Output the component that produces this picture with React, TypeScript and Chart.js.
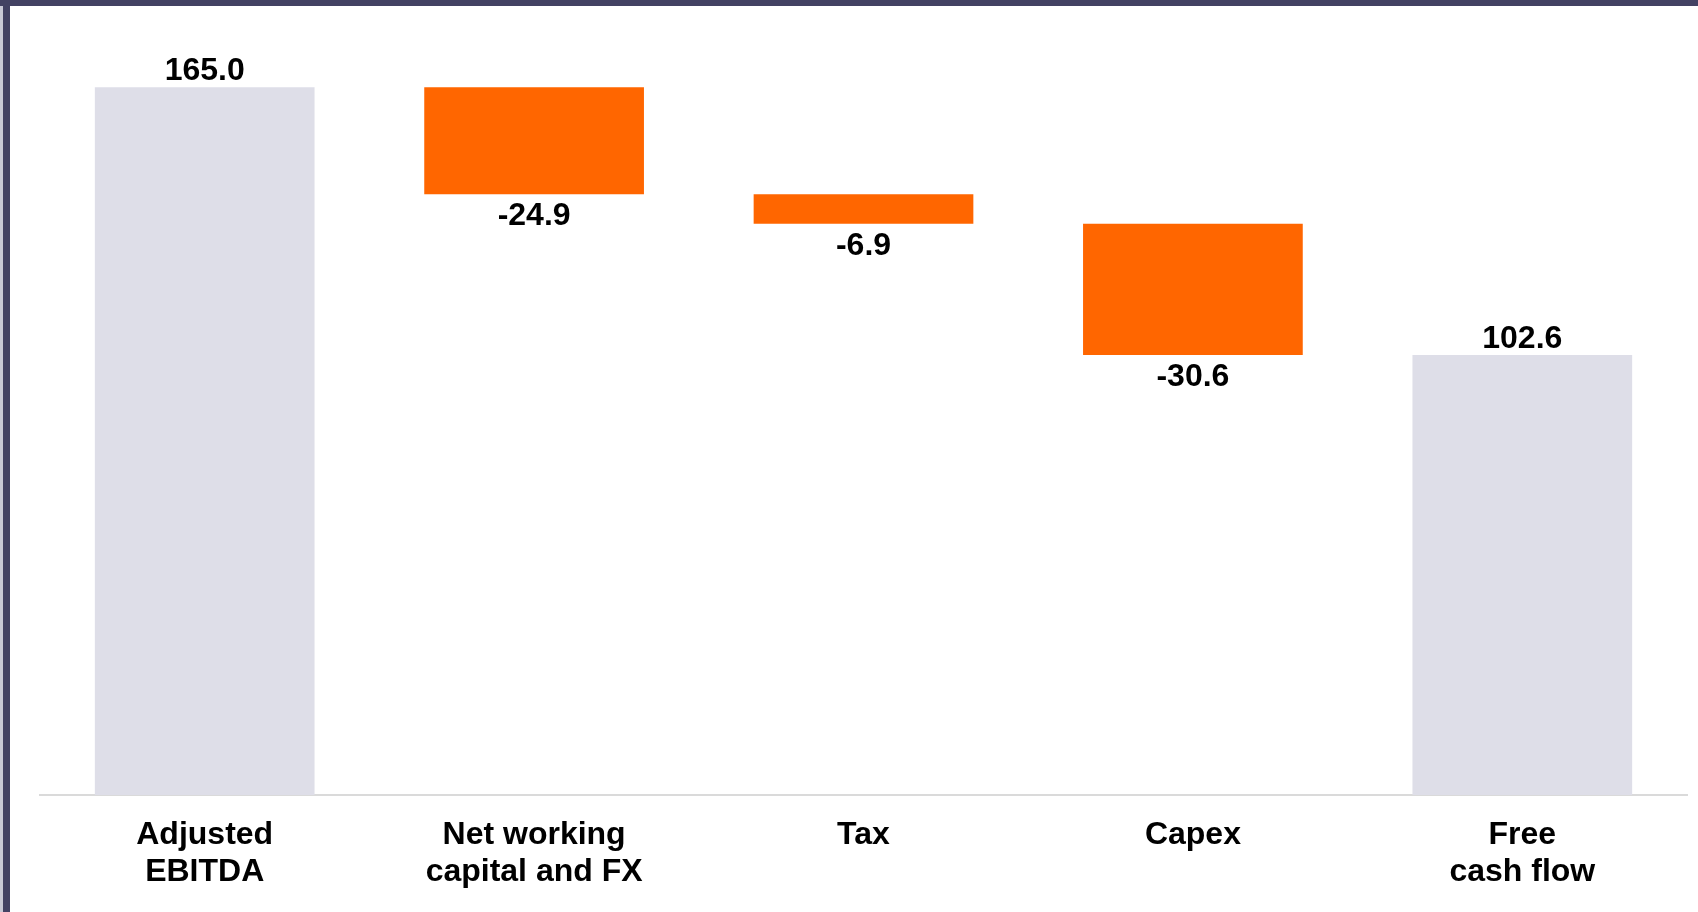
import React, { useEffect, useRef } from "react";
import { Chart, registerables } from "chart.js";

Chart.register(...registerables);

const categories: string[][] = [
  ["Adjusted", "EBITDA"],
  ["Net working", "capital and FX"],
  ["Tax"],
  ["Capex"],
  ["Free", "cash flow"],
];
const values: number[] = [165.0, -24.9, -6.9, -30.6, 102.6];
const kinds: string[] = ["total", "delta", "delta", "delta", "total"];

const TOTAL_COLOR = "#dedee8";
const DELTA_COLOR = "#ff6600";
const FONT = "'Liberation Sans', Arial, Helvetica, sans-serif";

function buildRanges(): [number, number][] {
  const out: [number, number][] = [];
  let running = 0;
  values.forEach((v, i) => {
    if (kinds[i] === "total") {
      out.push([0, v]);
      running = v;
    } else {
      const next = running + v;
      out.push([next, running]);
      running = next;
    }
  });
  return out;
}

const valueLabels = {
  id: "valueLabels",
  afterDatasetsDraw(chart: any) {
    const ctx = chart.ctx;
    const meta = chart.getDatasetMeta(0);
    ctx.save();
    ctx.fillStyle = "#000";
    ctx.font = `bold 32px ${FONT}`;
    ctx.textAlign = "center";
    meta.data.forEach((bar: any, i: number) => {
      const v = values[i];
      const text = v.toFixed(1);
      const props = bar.getProps(["x", "y", "base"], true);
      const top = Math.min(props.y, props.base);
      const bottom = Math.max(props.y, props.base);
      if (kinds[i] === "total") {
        ctx.textBaseline = "bottom";
        ctx.fillText(text, props.x, top);
      } else {
        ctx.textBaseline = "top";
        ctx.fillText(text, props.x, bottom + 6);
      }
    });
    ctx.restore();
  },
};

export default function App() {
  const ref = useRef<HTMLCanvasElement | null>(null);

  useEffect(() => {
    if (!ref.current) return;
    const ranges = buildRanges();
    const chart = new Chart(ref.current, {
      type: "bar",
      data: {
        labels: categories as any,
        datasets: [
          {
            data: ranges as any,
            backgroundColor: kinds.map((k) => (k === "total" ? TOTAL_COLOR : DELTA_COLOR)),
            borderWidth: 0,
            categoryPercentage: 1,
            barPercentage: 0.667,
          },
        ],
      },
      options: {
        responsive: false,
        animation: false,
        devicePixelRatio: 1,
        layout: { padding: { left: 40, right: 11, top: 23, bottom: 0 } },
        plugins: {
          legend: { display: false },
          tooltip: { enabled: false },
        },
        scales: {
          x: {
            grid: { display: false, drawTicks: false },
            border: { display: true, color: "#dadada", width: 2 },
            ticks: {
              color: "#000",
              font: { family: FONT, size: 32, weight: "bold", lineHeight: 1.15 },
              padding: 22,
              maxRotation: 0,
              autoSkip: false,
            },
            afterFit(scale: any) {
              scale.height = 117;
            },
          },
          y: {
            display: false,
            min: 0,
            max: 180,
          },
        },
      },
      plugins: [valueLabels],
    });
    return () => chart.destroy();
  }, []);

  return (
    <div
      style={{
        position: "fixed",
        left: 0,
        top: 0,
        width: 1698,
        height: 912,
        background: "#fff",
        overflow: "hidden",
      }}
    >
      <canvas ref={ref} width={1698} height={912} style={{ position: "absolute", left: 0, top: 0 }} />
      <div style={{ position: "absolute", left: 0, top: 0, width: 3, height: 912, background: "#c9c9d6" }} />
      <div style={{ position: "absolute", left: 3, top: 0, width: 7, height: 912, background: "#434263" }} />
      <div style={{ position: "absolute", left: 0, top: 0, width: 1698, height: 6, background: "#434263" }} />
    </div>
  );
}
